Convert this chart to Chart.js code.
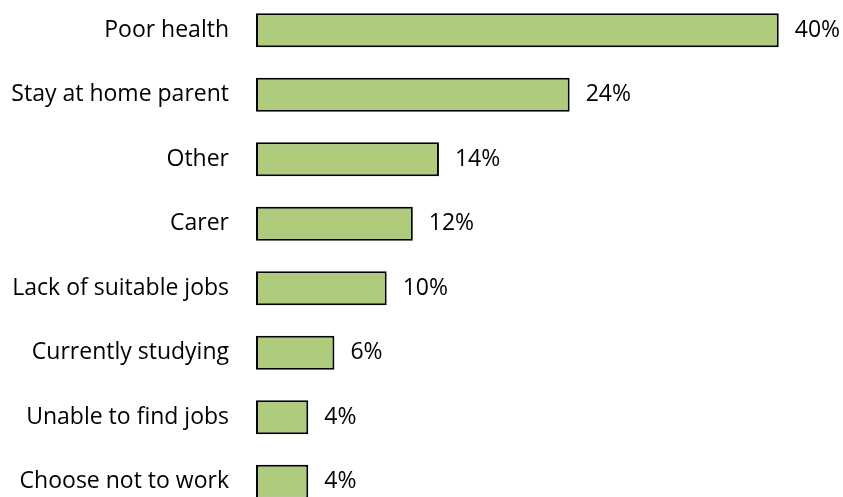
<!DOCTYPE html>
<html>
<head>
<meta charset="utf-8">
<script src="https://cdn.jsdelivr.net/npm/chart.js@4/dist/chart.umd.min.js"></script>
<style>
  html, body { margin: 0; padding: 0; background: #fff; overflow: hidden; }
  #frame { position: relative; width: 843px; height: 497px; overflow: hidden; }
  #wrap { position: absolute; left: 0; top: -2px; width: 843px; height: 516px; }
</style>
</head>
<body>
<div id="frame"><div id="wrap"><canvas id="reasonChart"></canvas></div></div>
<script>
const categories = ['Poor health', 'Stay at home parent', 'Other', 'Carer', 'Lack of suitable jobs', 'Currently studying', 'Unable to find jobs', 'Choose not to work'];
const shares = [40, 24, 14, 12, 10, 6, 4, 4];
const valueLabels = ['40%', '24%', '14%', '12%', '10%', '6%', '4%', '4%'];

const FONT = '"Open Sans", "Liberation Sans", sans-serif';

// draws the percentage next to the end of each bar
const endLabels = {
    id: 'endLabels',
    afterDatasetsDraw(chart) {
        const ctx = chart.ctx;
        const meta = chart.getDatasetMeta(0);
        ctx.save();
        ctx.font = '23px ' + FONT;
        ctx.fillStyle = '#000';
        ctx.textAlign = 'left';
        ctx.textBaseline = 'middle';
        meta.data.forEach((bar, i) => {
            ctx.fillText(valueLabels[i], bar.x + 16, bar.y);
        });
        ctx.restore();
    }
};

new Chart(document.getElementById('reasonChart'), {
    type: 'bar',
    data: {
        labels: categories,
        datasets: [{
            data: shares,
            backgroundColor: '#AFCB7C',
            borderColor: '#000',
            borderWidth: 2,
            borderSkipped: false,
            barPercentage: 0.53,
            categoryPercentage: 1
        }]
    },
    options: {
        indexAxis: 'y',
        responsive: true,
        maintainAspectRatio: false,
        animation: false,
        layout: { padding: { left: 0, right: 12, top: 0, bottom: 0 } },
        plugins: {
            legend: { display: false },
            tooltip: { enabled: false }
        },
        scales: {
            x: { display: false, min: 0, max: 44 },
            y: {
                grid: { display: false, drawTicks: false },
                border: { display: false },
                ticks: {
                    color: '#000',
                    padding: 27,
                    font: { family: FONT, size: 23 }
                },
                afterFit(scale) {
                    scale.width = 256;
                    // tick padding would otherwise push the plot away from the top/bottom
                    scale.paddingTop = 0;
                    scale.paddingBottom = 0;
                }
            }
        }
    },
    plugins: [endLabels]
});
</script>
</body>
</html>
